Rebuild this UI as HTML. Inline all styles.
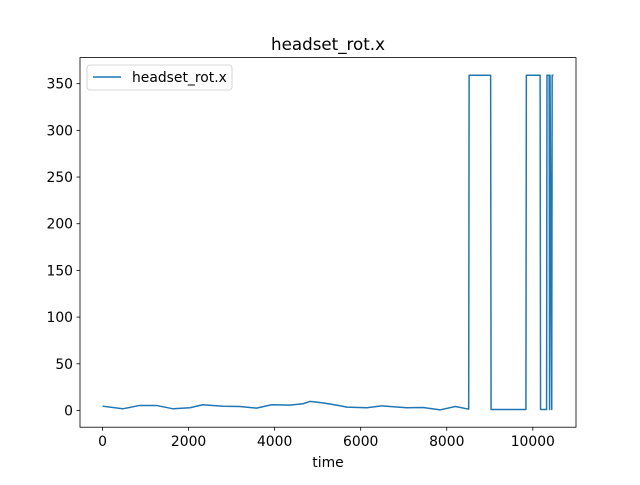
<!DOCTYPE html>
<html><head><meta charset="utf-8"><style>
body{margin:0;background:#fff;}
svg{font-family:"DejaVu Sans","Liberation Sans",sans-serif;}
</style></head><body>
<svg id="chart" width="640" height="480" viewBox="0 0 640 480">
<rect width="640" height="480" fill="#fff"/>
<text x="328" y="50" text-anchor="middle" font-size="16.7">headset_rot.x</text>
<g id="axes"></g>
<rect x="80" y="57.6" width="496" height="369.6" fill="none" stroke="#000" stroke-width="0.8"/>
<text x="328" y="467" text-anchor="middle" font-size="13.9">time</text>
<g>
<rect x="87" y="65" width="145" height="25" rx="3" fill="#fff" stroke="#ccc" stroke-width="0.8"/>
<line x1="93" y1="77" x2="121" y2="77" stroke="#1f77b4" stroke-width="1.5"/>
<text x="132" y="82" font-size="13.9">headset_rot.x</text>
</g>
</svg>
<script>
const times=[0,470,860,1250,1640,2030,2330,2800,3190,3580,3930,4350,4660,4820,5120,5440,5680,6140,6490,7070,7450,7850,8200,8470,8510,8520,9020,9030,9840,9850,10170,10180,10320,10330,10380,10390,10400,10440,10450,10480];
const values=[4.6,1.8,5.4,5.4,1.8,2.9,6.1,4.6,4.3,2.5,6.1,5.7,7.2,9.7,8.2,5.7,3.6,2.9,5.0,2.9,3.2,0.7,4.3,1.8,1.5,359,359,1,1,359,359,1,1,359,359,1,359,1,359,359];
const xTicks=[0,2000,4000,6000,8000,10000];
const yTicks=[0,50,100,150,200,250,300,350];
const xMin=-524,xMax=11004,yMin=-17.9,yMax=377.9;
const L=80,R=576,T=57.6,B=427.2;
const sx=v=>L+(v-xMin)/(xMax-xMin)*(R-L);
const sy=v=>B-(v-yMin)/(yMax-yMin)*(B-T);
const NS="http://www.w3.org/2000/svg";
const g=document.getElementById('axes');
function mk(tag,attrs){const e=document.createElementNS(NS,tag);for(const k in attrs)e.setAttribute(k,attrs[k]);g.appendChild(e);return e;}
xTicks.forEach(t=>{
 const l=mk('line',{x1:sx(t),x2:sx(t),y1:B,y2:B+3.5,stroke:'#000','stroke-width':0.8});
 
 
 const tx=mk('text',{x:sx(t),y:B+19,'text-anchor':'middle','font-size':13.9});
 tx.textContent=t;
 
 
});
yTicks.forEach(t=>{
 const l=mk('line',{x1:L-3.5,x2:L,y1:sy(t),y2:sy(t),stroke:'#000','stroke-width':0.8});
 
 
 const tx=mk('text',{x:L-7,y:sy(t)+5,'text-anchor':'end','font-size':13.9});
 tx.textContent=t;
 
 
});
const p=mk('polyline',{points:times.map((t,i)=>sx(t).toFixed(2)+','+sy(values[i]).toFixed(2)).join(' '),fill:'none',stroke:'#1f77b4','stroke-width':1.5,'stroke-linejoin':'round'});


</script>
</body></html>
